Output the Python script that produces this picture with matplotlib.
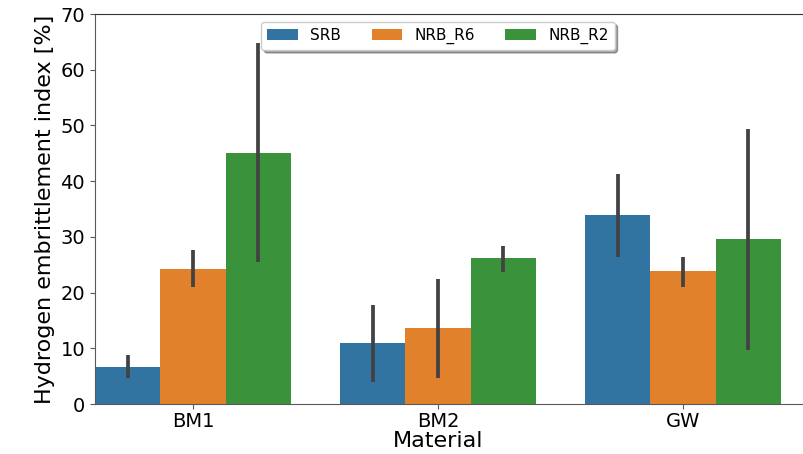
from matplotlib import pyplot as plt
import numpy as np

# data
materials = ['BM1', 'BM2', 'GW']
series = ['SRB', 'NRB_R6', 'NRB_R2']
colors = ['#3274a1', '#e1812c', '#3a923a']

means = {'SRB':    [6.6, 10.9, 33.9],
         'NRB_R6': [24.2, 13.6, 23.9],
         'NRB_R2': [45.0, 26.2, 29.6]}
ci_low = {'SRB':    [4.7, 3.9, 26.4],
          'NRB_R6': [21.0, 4.7, 21.0],
          'NRB_R2': [25.5, 23.7, 9.7]}
ci_high = {'SRB':    [8.8, 17.8, 41.3],
           'NRB_R6': [27.6, 22.4, 26.4],
           'NRB_R2': [64.8, 28.4, 49.4]}

fig, ax = plt.subplots(figsize=(8.04, 4.54), dpi=100)
x = np.arange(len(materials))
w = 0.8 / len(series)
for i, s in enumerate(series):
    pos = x - 0.4 + w * (i + 0.5)
    m = np.array(means[s])
    err = [m - np.array(ci_low[s]), np.array(ci_high[s]) - m]
    ax.bar(pos, m, width=w, color=colors[i], label=s, linewidth=0)
    ax.errorbar(pos, m, yerr=err, fmt='none', ecolor='#424242',
                elinewidth=2.7, capsize=0)

ax.set_xticks(x)
ax.set_xticklabels(materials, fontsize=14)
ax.tick_params(axis='y', labelsize=14)
ax.tick_params(axis='x', pad=2)
ax.tick_params(colors='0.35', labelcolor='black')
ax.set_xlim(-0.4, 2.49)
ax.set_ylim(0, 70)
ax.set_xlabel('Material', fontsize=16)
ax.xaxis.set_label_coords(0.4845, -0.068, transform=ax.transAxes)
ax.xaxis.label.set_va('top')
ax.set_ylabel('Hydrogen embrittlement index [%]', fontsize=16)
ax.spines['right'].set_visible(False)
ax.spines['top'].set_color('0.2')
ax.spines['left'].set_color('0.35')
ax.spines['bottom'].set_color('0.35')
ax.legend(loc='upper center', ncol=3, shadow=True, fontsize=11,
          bbox_to_anchor=(0.4845, 1.0))
plt.subplots_adjust(left=0.118, right=0.999, top=0.969, bottom=0.11)
plt.savefig('out.png')
